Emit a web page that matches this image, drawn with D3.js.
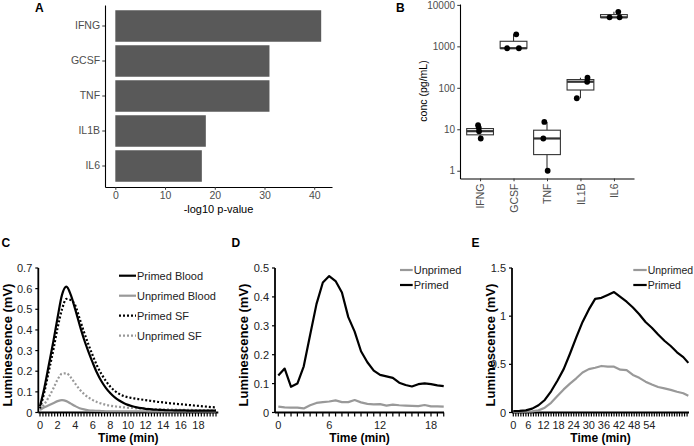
<!DOCTYPE html>
<html><head><meta charset="utf-8">
<script src="https://cdn.jsdelivr.net/npm/d3@7"></script>
<style>
body{margin:0;background:#fff}
svg{display:block}
text{font-family:"Liberation Sans",Arial,Helvetica,sans-serif}
</style>
</head><body>
<svg id="chart" width="694" height="446"></svg>
<script>
// ---------- Panel A data ----------
const genesA = ["IFNG", "GCSF", "TNF", "IL1B", "IL6"];
const log10p = [41.4, 31.0, 31.0, 18.2, 17.4];
const ticksA = [0, 10, 20, 30, 40];

// ---------- Panel B data ----------
const genesB = ["IFNG", "GCSF", "TNF", "IL1B", "IL6"];
const boxLow  = [6, 900, 1, 56, 5000];
const boxQ1   = [7.35, 900, 2.45, 88.5, 5000];
const boxMed  = [9, 900, 6, 140, 5000];
const boxQ3   = [10.4, 1325, 9.5, 158, 5830];
const boxHigh = [12.5, 1950, 15, 175, 6800];
const ptGene   = ["IFNG","IFNG","IFNG","IFNG","GCSF","GCSF","GCSF","TNF","TNF","TNF","IL1B","IL1B","IL1B","IL6","IL6","IL6"];
const ptConc   = [12.5, 11, 9, 6, 1950, 900, 900, 15, 6, 1, 175, 140, 56, 6800, 5000, 5000];
const ptJitter = [-0.06, -0.04, -0.03, 0.02, 0.08, -0.19, 0.16, -0.08, -0.11, 0.02, 0.21, 0.2, -0.11, 0.13, -0.13, 0.17];
const ticksB = [1, 10, 100, 1000, 10000];

// ---------- Panel C data ----------
const timeC = [0,0.5,1,1.5,2,2.5,3,3.5,4,4.5,5,5.5,6,6.5,7,7.5,8,8.5,9,9.5,10,10.5,11,11.5,12,12.5,13,13.5,14,14.5,15,15.5,16,16.5,17,17.5,18,18.5,19,19.5,20];
const primedBloodC = [0.03,0.12,0.23,0.34,0.46,0.57,0.61,0.57,0.50,0.425,0.355,0.295,0.24,0.19,0.15,0.118,0.093,0.073,0.058,0.046,0.037,0.030,0.025,0.021,0.018,0.016,0.014,0.013,0.012,0.011,0.011,0.010,0.010,0.010,0.009,0.009,0.009,0.009,0.009,0.009,0.009];
const unprimedBloodC = [0.012,0.025,0.035,0.045,0.055,0.06,0.055,0.043,0.031,0.021,0.015,0.011,0.009,0.008,0.007,0.006,0.006,0.006,0.006,0.006,0.006,0.006,0.006,0.006,0.006,0.005,0.005,0.005,0.005,0.005,0.005,0.005,0.005,0.005,0.005,0.005,0.005,0.005,0.005,0.005,0.005];
const primedSFC = [0.02,0.10,0.20,0.30,0.41,0.50,0.55,0.545,0.52,0.455,0.39,0.33,0.275,0.225,0.185,0.152,0.125,0.105,0.09,0.08,0.074,0.07,0.066,0.063,0.06,0.057,0.054,0.051,0.049,0.046,0.044,0.042,0.04,0.038,0.036,0.034,0.032,0.03,0.028,0.026,0.025];
const unprimedSFC = [0.015,0.04,0.075,0.115,0.16,0.188,0.19,0.17,0.14,0.112,0.09,0.073,0.06,0.05,0.043,0.037,0.033,0.03,0.027,0.025,0.023,0.022,0.02,0.019,0.018,0.017,0.016,0.016,0.015,0.015,0.014,0.014,0.013,0.013,0.013,0.012,0.012,0.012,0.012,0.011,0.011];
const ticksCx = [0,2,4,6,8,10,12,14,16,18];
const ticksCy = [0,0.1,0.2,0.3,0.4,0.5,0.6,0.7];

// ---------- Panel D data ----------
const timeD = [0,0.75,1.5,2.25,3,3.75,4.5,5.25,6,6.75,7.5,8.25,9,9.75,10.5,11.25,12,12.75,13.5,14.25,15,15.75,16.5,17.25,18,18.75,19.5];
const unprimedD = [0.020,0.018,0.017,0.017,0.014,0.025,0.033,0.036,0.038,0.042,0.036,0.036,0.043,0.035,0.030,0.028,0.029,0.024,0.027,0.025,0.024,0.023,0.022,0.026,0.021,0.021,0.020];
const primedD = [0.128,0.152,0.089,0.100,0.160,0.268,0.375,0.450,0.472,0.455,0.415,0.330,0.280,0.212,0.174,0.145,0.130,0.125,0.120,0.103,0.095,0.090,0.098,0.101,0.098,0.094,0.091];
const ticksDx = [0,6,12,18];
const ticksDy = [0,0.1,0.2,0.3,0.4,0.5];

// ---------- Panel E data ----------
const timeE = [0,2.5,5,7.5,10,12.5,15,17.5,20,22.5,25,27.5,30,32.5,35,37.5,40,42.5,45,47.5,50,52.5,55,57.5,60,62.5,65,67.5,69.5];
const unprimedE = [0.007,0.008,0.010,0.012,0.022,0.05,0.10,0.17,0.24,0.30,0.355,0.415,0.45,0.465,0.483,0.476,0.476,0.445,0.44,0.39,0.36,0.32,0.29,0.265,0.25,0.235,0.215,0.20,0.175];
const primedE = [0.015,0.017,0.022,0.04,0.075,0.13,0.22,0.33,0.45,0.61,0.78,0.94,1.07,1.18,1.19,1.22,1.25,1.20,1.15,1.09,1.02,0.94,0.88,0.81,0.745,0.69,0.625,0.575,0.515];
const ticksEx = [0,6,12,18,24,30,36,42,48,54];
const ticksEy = [0,0.5,1,1.5];

// =====================================================
const svg = d3.select("#chart");
const GREY_TXT = "#4D4D4D";

function styleGG(sel, fontSize) {
  sel.select(".domain").attr("stroke", "#000").attr("stroke-width", 1.1);
  sel.selectAll(".tick line").attr("stroke", "#333").attr("stroke-width", 1);
  sel.selectAll(".tick text").attr("font-size", fontSize).attr("fill", GREY_TXT)
     .attr("font-family", '"Liberation Sans",Arial,sans-serif');
}

// ---------------- Panel A ----------------
{
  const g = svg.append("g");
  const x = d3.scaleLinear().domain([-2.075, 43.575]).range([105, 332]);
  const y = d3.scaleBand().domain(genesA).range([5, 187]).paddingInner(0.1).paddingOuter(0.15);
  g.selectAll("rect").data(genesA).join("rect")
    .attr("x", x(0)).attr("y", d => y(d))
    .attr("width", (d, i) => x(log10p[i]) - x(0))
    .attr("height", y.bandwidth()).attr("fill", "#595959");
  const ay = g.append("g").attr("transform", "translate(105,0)")
    .call(d3.axisLeft(y).tickSize(2.75).tickPadding(2.2).tickSizeOuter(0));
  styleGG(ay, 10.5);
  const ax = g.append("g").attr("transform", "translate(0,187)")
    .call(d3.axisBottom(x).tickValues(ticksA).tickSize(2.75).tickPadding(2.2).tickSizeOuter(0));
  styleGG(ax, 10.5);
  g.append("text").attr("x", 218.5).attr("y", 212.5).attr("text-anchor", "middle")
    .attr("font-size", 11).attr("fill", "#000").text("-log10 p-value");
  svg.append("text").attr("x", 35).attr("y", 12).attr("font-size", 12).attr("font-weight", "bold").text("A");
}

// ---------------- Panel B ----------------
{
  const g = svg.append("g");
  const y = d3.scaleLog().domain([0.65, 10500]).range([178.5, 4]);
  const x = d3.scalePoint().domain(genesB).range([460, 634]).padding(0.6);
  const bw = x.step() * 0.8;
  const ay = g.append("g").attr("transform", "translate(460,0)")
    .call(d3.axisLeft(y).tickValues(ticksB).tickFormat(d3.format("d")).tickSize(2.75).tickPadding(2.2).tickSizeOuter(0));
  styleGG(ay, 10);
  const ax = g.append("g").attr("transform", "translate(0,178.5)")
    .call(d3.axisBottom(x).tickSize(2.75).tickSizeOuter(0));
  styleGG(ax, 10.5);
  ax.selectAll(".tick text")
    .attr("transform", "translate(3.8,5) rotate(-90)")
    .attr("text-anchor", "end").attr("x", 0).attr("y", 0).attr("dy", 0);
  genesB.forEach((gname, i) => {
    const cx = x(gname);
    const bg = g.append("g");
    bg.append("line").attr("x1", cx).attr("x2", cx).attr("y1", y(boxQ3[i])).attr("y2", y(boxHigh[i]))
      .attr("stroke", "#333").attr("stroke-width", 1.1);
    bg.append("line").attr("x1", cx).attr("x2", cx).attr("y1", y(boxQ1[i])).attr("y2", y(boxLow[i]))
      .attr("stroke", "#333").attr("stroke-width", 1.1);
    bg.append("rect").attr("x", cx - bw / 2).attr("width", bw)
      .attr("y", y(boxQ3[i])).attr("height", Math.max(0.5, y(boxQ1[i]) - y(boxQ3[i])))
      .attr("fill", "#fff").attr("stroke", "#333").attr("stroke-width", 1.1);
    bg.append("line").attr("x1", cx - bw / 2).attr("x2", cx + bw / 2)
      .attr("y1", y(boxMed[i])).attr("y2", y(boxMed[i]))
      .attr("stroke", "#333").attr("stroke-width", 2.2);
  });
  g.selectAll("circle").data(ptConc).join("circle")
    .attr("cx", (d, i) => x(ptGene[i]) + ptJitter[i] * x.step())
    .attr("cy", d => y(d)).attr("r", 2.9).attr("fill", "#000");
  g.append("text").attr("transform", "translate(427,91) rotate(-90)").attr("text-anchor", "middle")
    .attr("font-size", 10.5).attr("fill", "#000").text("conc (pg/mL)");
  svg.append("text").attr("x", 396).attr("y", 12).attr("font-size", 12).attr("font-weight", "bold").text("B");
}

// ---------------- Excel-style panels ----------------
const Y0 = 412.5, YTOP = 268;
function excelPanel(o) {
  const g = svg.append("g");
  const x = d3.scaleLinear().domain(o.xDom).range(o.xRng);
  const y = d3.scaleLinear().domain([0, o.yMax]).range([Y0, YTOP]);
  const cats = d3.range(o.catStart, o.catEnd + 1e-9, o.catStep);
  g.selectAll("line.cat").data(cats).join("line").attr("class", "cat")
    .attr("x1", d => x(d)).attr("x2", d => x(d)).attr("y1", Y0).attr("y2", Y0 + 4)
    .attr("stroke", "#000").attr("stroke-width", 1.2);
  g.append("line").attr("x1", o.axL).attr("x2", o.axR).attr("y1", Y0).attr("y2", Y0)
    .attr("stroke", "#000").attr("stroke-width", 1.8);
  g.selectAll("text.xl").data(o.xTicks).join("text").attr("class", "xl")
    .attr("x", d => x(d)).attr("y", 428.5).attr("text-anchor", "middle")
    .attr("font-size", 11).attr("fill", "#222").text(d => d);
  g.append("line").attr("x1", o.axL).attr("x2", o.axL).attr("y1", Y0).attr("y2", YTOP)
    .attr("stroke", "#000").attr("stroke-width", 1.8);
  g.selectAll("line.yt").data(o.yTicks).join("line").attr("class", "yt")
    .attr("x1", o.axL - 3).attr("x2", o.axL).attr("y1", d => y(d)).attr("y2", d => y(d))
    .attr("stroke", "#000").attr("stroke-width", 1.2);
  g.selectAll("text.yl").data(o.yTicks).join("text").attr("class", "yl")
    .attr("x", o.axL - 6).attr("y", d => y(d) + 4).attr("text-anchor", "end")
    .attr("font-size", 11).attr("fill", "#222").text(o.yFmt);
  g.append("text").attr("x", (o.axL + o.axR) / 2).attr("y", 441.5).attr("text-anchor", "middle")
    .attr("font-size", 12).attr("font-weight", "bold").text("Time (min)");
  g.append("text").attr("transform", `translate(${o.ytX},345) rotate(-90)`).attr("text-anchor", "middle")
    .attr("font-size", 13).attr("font-weight", "bold").text("Luminescence (mV)");
  const line = d3.line().x(d => x(d[0])).y(d => y(d[1]));
  if (o.curve) line.curve(o.curve);
  o.series.forEach(s => {
    g.append("path").datum(o.time.map((t, i) => [t, s.vals[i]]))
      .attr("d", line).attr("fill", "none").attr("stroke", s.color)
      .attr("stroke-width", s.w).attr("stroke-dasharray", s.dash || null)
      .attr("stroke-linejoin", "round");
  });
  o.legend.forEach((s, i) => {
    const yy = o.legY[i];
    g.append("line").attr("x1", o.legX[0]).attr("x2", o.legX[1]).attr("y1", yy).attr("y2", yy)
      .attr("stroke", s.color).attr("stroke-width", s.w).attr("stroke-dasharray", s.dash || null);
    g.append("text").attr("x", o.legX[1] + 1).attr("y", yy + 4).attr("font-size", o.legFont || 11)
      .attr("fill", "#222").text(s.name);
  });
  svg.append("text").attr("x", o.letter[1]).attr("y", 247).attr("font-size", 12)
    .attr("font-weight", "bold").text(o.letter[0]);
}

const BLACK = "#000", GREY = "#999";
// Panel C
{
  const s = [
    {name: "Primed Blood", vals: primedBloodC, color: BLACK, w: 2.2},
    {name: "Unprimed Blood", vals: unprimedBloodC, color: GREY, w: 2.2},
    {name: "Primed SF", vals: primedSFC, color: BLACK, w: 2.2, dash: "2,2"},
    {name: "Unprimed SF", vals: unprimedSFC, color: GREY, w: 2.2, dash: "2,2"}
  ];
  excelPanel({
    xDom: [0, 18], xRng: [40, 198.4], axL: 38.3, axR: 218.3,
    catStart: 0, catEnd: 20.2, catStep: 1/3,
    yMax: 0.7, yTicks: ticksCy, yFmt: d => d3.format("")(d), xTicks: ticksCx,
    time: timeC, series: [s[3], s[1], s[2], s[0]], legend: s, curve: d3.curveMonotoneX,
    legX: [119, 136], legY: [275.7, 295.7, 315.7, 335.7], ytX: 12, letter: ["C", 1.5]
  });
}
// Panel D
{
  const s = [
    {name: "Unprimed", vals: unprimedD, color: GREY, w: 2.2},
    {name: "Primed", vals: primedD, color: BLACK, w: 2.2}
  ];
  excelPanel({
    xDom: [0, 18], xRng: [278.3, 431], axL: 275, axR: 444,
    catStart: 0, catEnd: 19.5, catStep: 0.75,
    yMax: 0.5, yTicks: ticksDy, yFmt: d => d3.format("")(d), xTicks: ticksDx,
    time: timeD, series: s, legend: s,
    legX: [400, 412.7], legY: [270, 285], ytX: 247.5, letter: ["D", 231.5]
  });
}
// Panel E
{
  const s = [
    {name: "Unprimed", vals: unprimedE, color: GREY, w: 2.2},
    {name: "Primed", vals: primedE, color: BLACK, w: 2.2}
  ];
  excelPanel({
    xDom: [0, 54], xRng: [513.3, 649.3], axL: 512, axR: 689,
    catStart: 0, catEnd: 69.5, catStep: 1,
    yMax: 1.5, yTicks: ticksEy, yFmt: d => d3.format("")(d), xTicks: ticksEx,
    time: timeE, series: s, legend: s, legFont: 10.5,
    legX: [633.3, 646.7], legY: [270, 285], ytX: 494.5, letter: ["E", 471.5]
  });
}
</script>
</body></html>
